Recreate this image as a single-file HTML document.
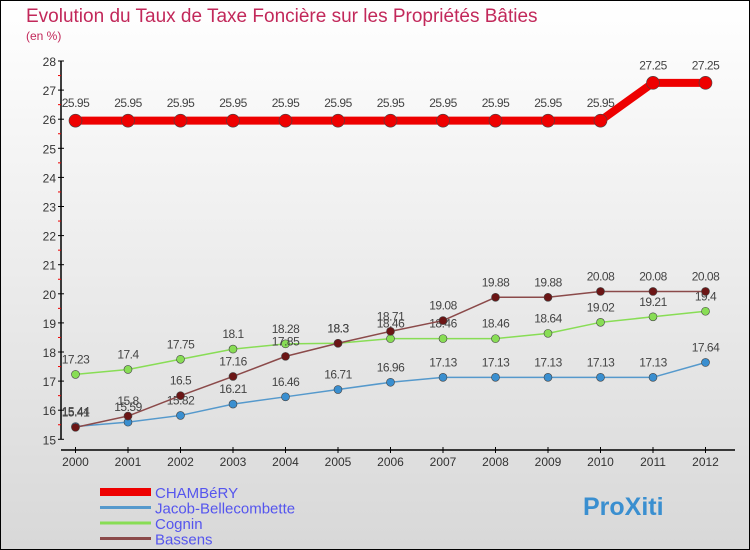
<!DOCTYPE html>
<html><head><meta charset="utf-8"><style>
body{margin:0;}
#c{width:750px;height:550px;position:relative;box-sizing:border-box;border:1px solid #000;background:linear-gradient(#fff,#d8d8d8);font-family:"Liberation Sans",sans-serif;overflow:hidden}
</style></head><body>
<div id="c">
<svg id="s" width="750" height="550" style="position:absolute;left:-1px;top:-1px">
<text x="26" y="22" font-size="19" fill="#c2285a">Evolution du Taux de Taxe Foncière sur les Propriétés Bâties</text>
<text x="26" y="40" font-size="12" fill="#c2285a">(en %)</text>
</svg>
</div>
<script>
const years=["2000","2001","2002","2003","2004","2005","2006","2007","2008","2009","2010","2011","2012"];
const chambery=[25.95,25.95,25.95,25.95,25.95,25.95,25.95,25.95,25.95,25.95,25.95,27.25,27.25];
const jacob=[15.44,15.59,15.82,16.21,16.46,16.71,16.96,17.13,17.13,17.13,17.13,17.13,17.64];
const cognin=[17.23,17.4,17.75,18.1,18.28,18.3,18.46,18.46,18.46,18.64,19.02,19.21,19.4];
const bassens=[15.41,15.8,16.5,17.16,17.85,18.3,18.71,19.08,19.88,19.88,20.08,20.08,20.08];
const yTicks=[15,16,17,18,19,20,21,22,23,24,25,26,27,28];
const names=["CHAMBéRY","Jacob-Bellecombette","Cognin","Bassens"];
const NS="http://www.w3.org/2000/svg",s=document.getElementById('s');
const X=i=>75.5+i*52.5, Y=v=>61+(28-v)*29.1;
function el(t,a,p){const e=document.createElementNS(NS,t);for(const k in a)e.setAttribute(k,a[k]);(p||s).appendChild(e);return e;}
// axes
let ya=el('line',{x1:61,y1:Y(28),x2:61,y2:Y(15),stroke:'#000','stroke-width':1.5});


yTicks.forEach(v=>{el('line',{x1:58,x2:64,y1:Y(v),y2:Y(v),stroke:'#000'});
 if(v<28)el('line',{x1:58,x2:61,y1:Y(v+0.5),y2:Y(v+0.5),stroke:'#e00'});
 let t=el('text',{x:56,y:Y(v)+5,'font-size':12,fill:'#333','text-anchor':'end'});t.textContent=v;
 
 });
let xa=el('line',{x1:61,y1:450,x2:735,y2:450,stroke:'#000','stroke-width':1.5});


years.forEach((y,i)=>{el('line',{x1:X(i),x2:X(i),y1:447,y2:453,stroke:'#000'});
 let t=el('text',{x:X(i),y:466,'font-size':12,fill:'#333','text-anchor':'middle'});t.textContent=y;
 
 });
function series(d,color,w,r,fill,name){
 let p=el('polyline',{points:d.map((v,i)=>X(i)+','+Y(v)).join(' '),fill:'none',stroke:color,'stroke-width':w,'stroke-linejoin':'round'});
 
 
 d.forEach((v,i)=>{let c=el('circle',{cx:X(i),cy:Y(v),r:r,fill:fill,stroke:'#444','stroke-width':0.6});
  
  
  let t=el('text',{x:X(i),y:Y(v)-(r+7),'font-size':12,fill:'#444','text-anchor':'middle','letter-spacing':'-0.5'});t.textContent=v;
  
  });
}
series(cognin,'#88dd55',1.5,4,'#88dd55','cognin');
series(jacob,'#5599cc',1.5,4,'#3a8fd0','jacob-bellecombette');
series(bassens,'#8b4a4a',1.5,4,'#6b1515','bassens');
series(chambery,'#ee0000',8,6.5,'#ee0000','chambery');
const lc=['#ee0000','#5599cc','#88dd55','#8b4a4a'],lw=[8,3,3,3];
names.forEach((n,i)=>{let y=492+i*15.5;
 let l=el('line',{x1:100,x2:151,y1:y,y2:y,stroke:lc[i],'stroke-width':lw[i]});
 
 
 let t=el('text',{x:155,y:y+6,'font-size':15,fill:'#5555ee'});t.textContent=n;
 
 });
let lg=el('text',{x:583,y:515,'font-size':25,'font-weight':'bold',fill:'#3a8fd0'});
lg.textContent='ProXiti';


</script>
</body></html>
